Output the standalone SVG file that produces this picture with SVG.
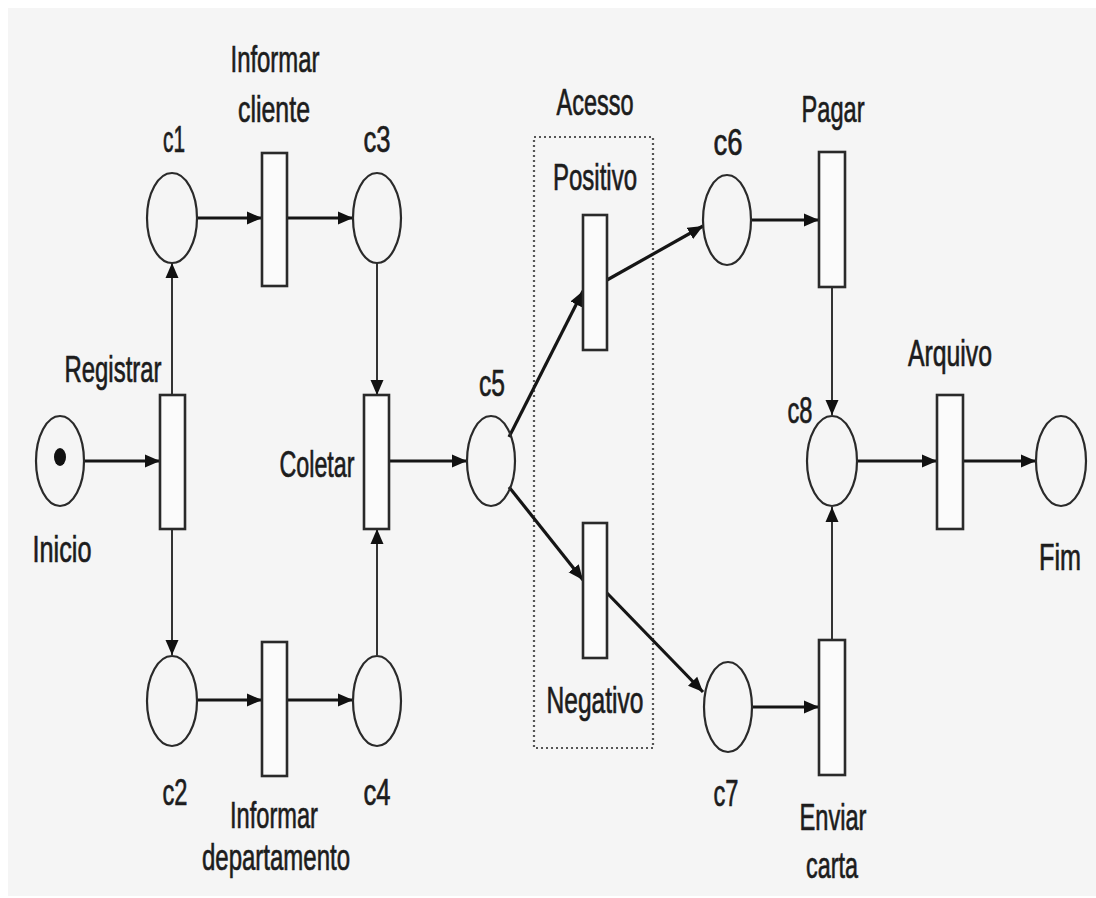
<svg xmlns="http://www.w3.org/2000/svg" width="1096" height="898" viewBox="0 0 1096 898">
<defs>
<marker id="ah" markerUnits="userSpaceOnUse" markerWidth="16" markerHeight="14" refX="15" refY="7" orient="auto">
<path d="M0,0.5 L15,7 L0,13.5 z" fill="#111"/>
</marker>
<style>
.place{fill:none;stroke:#2a2a2a;stroke-width:2.2}
.trans{fill:#fbfbfb;stroke:#2a2a2a;stroke-width:2.6}
.lbl{font-family:"Liberation Sans Narrow","Liberation Sans",Arial,sans-serif;font-size:37px;fill:#1c1c1c;stroke:#1c1c1c;stroke-width:0.7;text-anchor:middle}
.arc{fill:none;stroke:#151515;stroke-width:3.2;marker-end:url(#ah)}
.arcv{fill:none;stroke:#333;stroke-width:2;marker-end:url(#ah)}
.group{fill:none;stroke:#555;stroke-width:2.2;stroke-dasharray:2 3}
</style>
</defs>
<rect x="0" y="0" width="1096" height="898" fill="#ffffff"/>
<rect x="8" y="8" width="1088" height="888" fill="#f5f5f5"/>

<g id="acesso">
<rect class="group" x="534" y="137" width="119" height="611"/>
<text class="lbl" x="595" y="115" textLength="77" lengthAdjust="spacingAndGlyphs">Acesso</text>
</g>

<g id="connectors">
<line class="arc" x1="84" y1="461" x2="160" y2="461"/>
<line class="arcv" x1="172" y1="395" x2="172" y2="263"/>
<line class="arcv" x1="172" y1="529" x2="172" y2="655"/>
<line class="arc" x1="198" y1="218" x2="262" y2="218"/>
<line class="arc" x1="287" y1="218" x2="353" y2="218"/>
<line class="arcv" x1="377" y1="263" x2="377" y2="395"/>
<line class="arc" x1="198" y1="700" x2="262" y2="700"/>
<line class="arc" x1="287" y1="700" x2="353" y2="700"/>
<line class="arcv" x1="377" y1="655" x2="377" y2="529"/>
<line class="arc" x1="389" y1="461" x2="467" y2="461"/>
<line class="arc" x1="509" y1="437" x2="583" y2="291"/>
<line class="arc" x1="509" y1="487" x2="583" y2="580"/>
<line class="arc" x1="607" y1="280" x2="703" y2="226"/>
<line class="arc" x1="607" y1="593" x2="703" y2="692"/>
<line class="arc" x1="751" y1="220" x2="819" y2="220"/>
<line class="arcv" x1="832" y1="287" x2="832" y2="415"/>
<line class="arc" x1="751" y1="707" x2="819" y2="707"/>
<line class="arcv" x1="832" y1="640" x2="832" y2="507"/>
<line class="arc" x1="857" y1="461" x2="937" y2="461"/>
<line class="arc" x1="963" y1="461" x2="1036" y2="461"/>
</g>

<g id="inicio">
<ellipse class="place" cx="60" cy="461" rx="24" ry="45"/>
<ellipse cx="60" cy="457" rx="6" ry="9" fill="#111"/>
<text class="lbl" x="62" y="562" textLength="59" lengthAdjust="spacingAndGlyphs">Inicio</text>
</g>
<g id="registrar">
<rect class="trans" x="160" y="395" width="25" height="134"/>
<text class="lbl" x="113" y="382" textLength="97" lengthAdjust="spacingAndGlyphs">Registrar</text>
</g>
<g id="c1">
<ellipse class="place" cx="172" cy="218" rx="25" ry="45"/>
<text class="lbl" x="174" y="152" textLength="22" lengthAdjust="spacingAndGlyphs">c1</text>
</g>
<g id="c2">
<ellipse class="place" cx="172" cy="701" rx="25" ry="45"/>
<text class="lbl" x="175" y="805" textLength="25" lengthAdjust="spacingAndGlyphs">c2</text>
</g>
<g id="informar-cliente">
<rect class="trans" x="262" y="153" width="25" height="133"/>
<text class="lbl" x="275" y="72" textLength="89" lengthAdjust="spacingAndGlyphs">Informar</text>
<text class="lbl" x="274" y="122" textLength="72" lengthAdjust="spacingAndGlyphs">cliente</text>
</g>
<g id="informar-departamento">
<rect class="trans" x="262" y="642" width="25" height="134"/>
<text class="lbl" x="274" y="828" textLength="88" lengthAdjust="spacingAndGlyphs">Informar</text>
<text class="lbl" x="276" y="870" textLength="148" lengthAdjust="spacingAndGlyphs">departamento</text>
</g>
<g id="c3">
<ellipse class="place" cx="377" cy="218" rx="24" ry="45"/>
<text class="lbl" x="377" y="152" textLength="27" lengthAdjust="spacingAndGlyphs">c3</text>
</g>
<g id="c4">
<ellipse class="place" cx="377" cy="701" rx="24" ry="45"/>
<text class="lbl" x="377" y="805" textLength="27" lengthAdjust="spacingAndGlyphs">c4</text>
</g>
<g id="coletar">
<rect class="trans" x="364" y="395" width="25" height="134"/>
<text class="lbl" x="317" y="477" textLength="75" lengthAdjust="spacingAndGlyphs">Coletar</text>
</g>
<g id="c5">
<ellipse class="place" cx="491" cy="461" rx="24" ry="45"/>
<text class="lbl" x="492" y="396" textLength="26" lengthAdjust="spacingAndGlyphs">c5</text>
</g>
<g id="positivo">
<rect class="trans" x="583" y="215" width="24" height="135"/>
<text class="lbl" x="595" y="190" textLength="84" lengthAdjust="spacingAndGlyphs">Positivo</text>
</g>
<g id="negativo">
<rect class="trans" x="583" y="523" width="24" height="135"/>
<text class="lbl" x="595" y="713" textLength="97" lengthAdjust="spacingAndGlyphs">Negativo</text>
</g>
<g id="c6">
<ellipse class="place" cx="727" cy="220" rx="24" ry="45"/>
<text class="lbl" x="728" y="155" textLength="29" lengthAdjust="spacingAndGlyphs">c6</text>
</g>
<g id="c7">
<ellipse class="place" cx="728" cy="707" rx="24" ry="45"/>
<text class="lbl" x="726" y="806" textLength="25" lengthAdjust="spacingAndGlyphs">c7</text>
</g>
<g id="pagar">
<rect class="trans" x="819" y="152" width="26" height="135"/>
<text class="lbl" x="833" y="122" textLength="63" lengthAdjust="spacingAndGlyphs">Pagar</text>
</g>
<g id="enviar-carta">
<rect class="trans" x="819" y="640" width="26" height="135"/>
<text class="lbl" x="833" y="830" textLength="67" lengthAdjust="spacingAndGlyphs">Enviar</text>
<text class="lbl" x="832" y="878" textLength="52" lengthAdjust="spacingAndGlyphs">carta</text>
</g>
<g id="c8">
<ellipse class="place" cx="832" cy="461" rx="25" ry="45"/>
<text class="lbl" x="800" y="423" textLength="25" lengthAdjust="spacingAndGlyphs">c8</text>
</g>
<g id="arquivo">
<rect class="trans" x="937" y="395" width="26" height="134"/>
<text class="lbl" x="950" y="366" textLength="84" lengthAdjust="spacingAndGlyphs">Arquivo</text>
</g>
<g id="fim">
<ellipse class="place" cx="1061" cy="461" rx="25" ry="45"/>
<text class="lbl" x="1060" y="570" textLength="42" lengthAdjust="spacingAndGlyphs">Fim</text>
</g>
</svg>
